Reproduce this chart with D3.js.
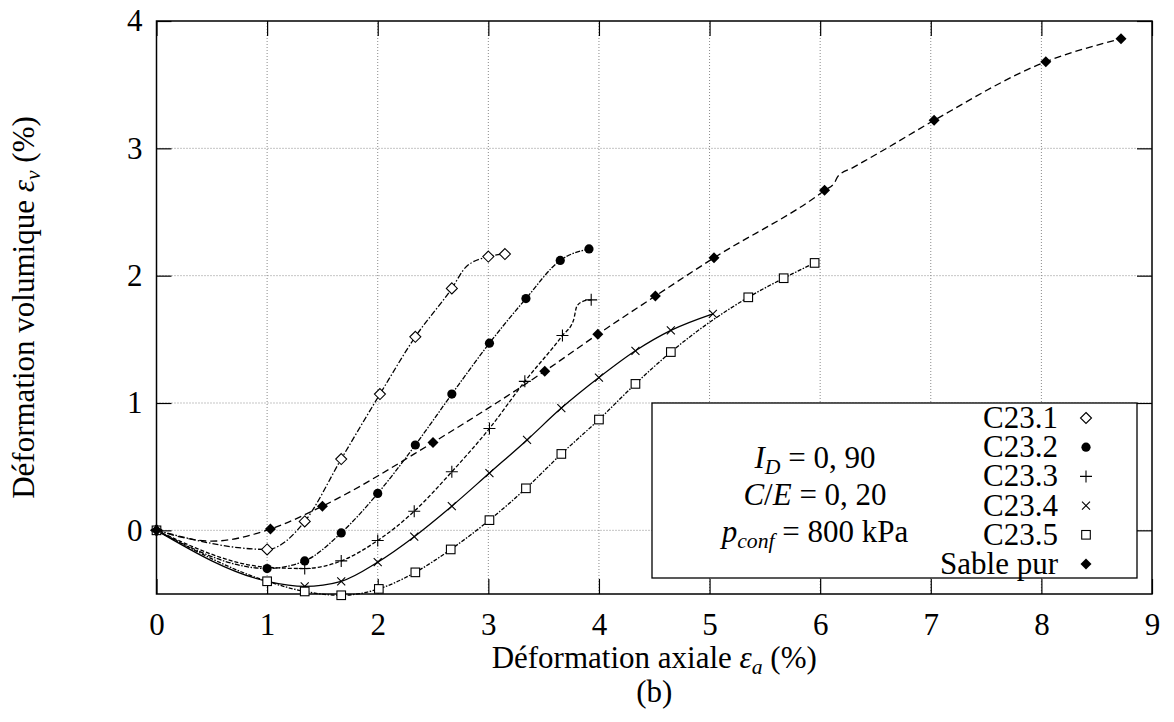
<!DOCTYPE html>
<html>
<head>
<meta charset="utf-8">
<script src="https://cdn.jsdelivr.net/npm/d3@7"></script>
<style>
  html, body { margin: 0; padding: 0; background: #fff; }
  svg { display: block; font-family: "Liberation Serif", "DejaVu Serif", serif; }
</style>
</head>
<body>
<svg id="chart" width="1174" height="722"></svg>
<script>
// Axis ticks
const xTicks = [0, 1, 2, 3, 4, 5, 6, 7, 8, 9];
const yTicks = [0, 1, 2, 3, 4];
const xGrid = [1, 2, 3, 4, 5, 6, 7, 8];
const yGrid = [0, 1, 2, 3];

// Volumetric strain (%) vs axial strain (%) — marked points of each test
const c231X = [0, 1.00, 1.34, 1.67, 2.02, 2.34, 2.67, 3.00, 3.15];
const c231Y = [0, -0.15, 0.07, 0.56, 1.07, 1.52, 1.90, 2.15, 2.17];
const c232X = [0, 1.00, 1.34, 1.67, 2.00, 2.34, 2.67, 3.01, 3.34, 3.65, 3.91];
const c232Y = [0, -0.30, -0.24, -0.02, 0.29, 0.67, 1.07, 1.47, 1.82, 2.12, 2.21];
const c233X = [0, 1.34, 1.67, 2.00, 2.33, 2.67, 3.01, 3.33, 3.67, 3.93];
const c233Y = [0, -0.30, -0.24, -0.08, 0.15, 0.46, 0.80, 1.17, 1.53, 1.81];
const c234X = [0, 1.00, 1.34, 1.67, 2.00, 2.33, 2.67, 3.01, 3.35, 3.66, 4.00, 4.33, 4.65, 5.03];
const c234Y = [0, -0.40, -0.44, -0.40, -0.25, -0.05, 0.19, 0.45, 0.71, 0.96, 1.20, 1.41, 1.57, 1.70];
const c235X = [0, 1.00, 1.34, 1.67, 2.01, 2.34, 2.66, 3.01, 3.34, 3.66, 4.00, 4.33, 4.65, 5.35, 5.67, 5.95];
const c235Y = [0, -0.40, -0.48, -0.51, -0.46, -0.33, -0.15, 0.08, 0.33, 0.60, 0.87, 1.15, 1.40, 1.83, 1.98, 2.10];
const sableX = [0, 1.03, 1.50, 2.50, 3.51, 3.99, 4.51, 5.04, 6.04, 7.03, 8.04, 8.72];
const sableY = [0, 0.01, 0.19, 0.69, 1.25, 1.54, 1.84, 2.14, 2.67, 3.22, 3.68, 3.86];

// Extra points on the continuous traces between markers
const c231TraceX = [2.80];
const c231TraceY = [2.07];
const c233TraceX = [1.00, 3.77, 3.80, 3.86];
const c233TraceY = [-0.29, 1.65, 1.76, 1.80];
const sableTraceX = [0.50, 6.13, 6.16, 6.30, 6.60];
const sableTraceY = [-0.085, 2.73, 2.78, 2.85, 3.00];

const seriesNames = ["C23.1", "C23.2", "C23.3", "C23.4", "C23.5", "Sable pur"];
const annotation = ["I_D = 0,90", "C/E = 0,20", "p_conf = 800 kPa"];

const zip = (xs, ys) => xs.map((x, i) => ({x, y: ys[i]}));
const merge = (a, b) => a.concat(b).sort((p, q) => p.x - q.x);

const series = [
  {name: seriesNames[0], pts: zip(c231X, c231Y), trace: merge(zip(c231X, c231Y), zip(c231TraceX, c231TraceY)), marker: "diamondOpen", dash: "6,2,1.5,2"},
  {name: seriesNames[1], pts: zip(c232X, c232Y), trace: zip(c232X, c232Y), marker: "circle", dash: "5,1.5,1.5,1.5"},
  {name: seriesNames[2], pts: zip(c233X, c233Y), trace: merge(zip(c233X, c233Y), zip(c233TraceX, c233TraceY)), marker: "plus", dash: "4,2"},
  {name: seriesNames[3], pts: zip(c234X, c234Y), trace: zip(c234X, c234Y), marker: "cross", dash: null},
  {name: seriesNames[4], pts: zip(c235X, c235Y), trace: zip(c235X, c235Y), marker: "square", dash: "4,1.5,1.5,1.5"},
  {name: seriesNames[5], pts: zip(sableX, sableY), trace: merge(zip(sableX, sableY), zip(sableTraceX, sableTraceY)), marker: "diamondFilled", dash: "7,4"}
];

const svg = d3.select("#chart");
const plotLeft = 156.5, plotRight = 1152, plotTop = 21, plotBottom = 594;
const x = d3.scaleLinear().domain([0, 9]).range([plotLeft, plotRight]);
const y = d3.scaleLinear().domain([-0.5, 4]).range([plotBottom, plotTop]);
const FONT = 31;

// Grid
const grid = svg.append("g").attr("stroke", "#8a8a8a").attr("stroke-width", 1).attr("stroke-dasharray", "1,2");
grid.selectAll("line.gx").data(xGrid).join("line")
  .attr("x1", d => x(d)).attr("x2", d => x(d)).attr("y1", y(-0.5)).attr("y2", y(4));
grid.selectAll("line.gy").data(yGrid).join("line")
  .attr("x1", x(0)).attr("x2", x(9)).attr("y1", d => y(d)).attr("y2", d => y(d));

// Axes with inward ticks on all four sides
function styleAxis(g) {
  g.select(".domain").remove();
  g.selectAll(".tick line").attr("stroke", "#000").attr("stroke-width", 1.2);
  g.selectAll(".tick text").attr("font-size", FONT).attr("fill", "#000")
    .attr("font-family", "Liberation Serif, serif");
}
svg.append("g").attr("transform", `translate(0,${plotBottom})`)
  .call(d3.axisBottom(x).tickValues(xTicks).tickSizeInner(-15).tickSizeOuter(0).tickPadding(19).tickFormat(d3.format("d")))
  .call(styleAxis);
svg.append("g").attr("transform", `translate(0,${plotTop})`)
  .call(d3.axisTop(x).tickValues(xTicks).tickSizeInner(-15).tickSizeOuter(0).tickFormat(""))
  .call(styleAxis);
svg.append("g").attr("transform", `translate(${plotLeft},0)`)
  .call(d3.axisLeft(y).tickValues(yTicks).tickSizeInner(-15).tickSizeOuter(0).tickPadding(14).tickFormat(d3.format("d")))
  .call(styleAxis);
svg.append("g").attr("transform", `translate(${plotRight},0)`)
  .call(d3.axisRight(y).tickValues(yTicks).tickSizeInner(-15).tickSizeOuter(0).tickFormat(""))
  .call(styleAxis);

// Frame
svg.append("rect").attr("x", plotLeft).attr("y", plotTop).attr("width", plotRight - plotLeft).attr("height", plotBottom - plotTop)
  .attr("fill", "none").attr("stroke", "#000").attr("stroke-width", 1.5);

// Marker shapes
function drawMarker(sel, type) {
  if (type === "diamondOpen") {
    sel.append("path").attr("d", "M0,-5.5L5.5,0L0,5.5L-5.5,0Z").attr("fill", "#fff").attr("stroke", "#000").attr("stroke-width", 1.1);
  } else if (type === "diamondFilled") {
    sel.append("path").attr("d", "M0,-5.5L5.5,0L0,5.5L-5.5,0Z").attr("fill", "#000");
  } else if (type === "circle") {
    sel.append("circle").attr("r", 4.6).attr("fill", "#000");
  } else if (type === "plus") {
    sel.append("path").attr("d", "M-6,0H6M0,-6V6").attr("stroke", "#000").attr("stroke-width", 1.1).attr("fill", "none");
  } else if (type === "cross") {
    sel.append("path").attr("d", "M-4,-4L4,4M-4,4L4,-4").attr("stroke", "#000").attr("stroke-width", 1.1).attr("fill", "none");
  } else if (type === "square") {
    sel.append("rect").attr("x", -4.3).attr("y", -4.3).attr("width", 8.6).attr("height", 8.6)
      .attr("fill", "#fff").attr("stroke", "#000").attr("stroke-width", 1.1);
  }
}

// Curves
const line = d3.line().x(d => x(d.x)).y(d => y(d.y)).curve(d3.curveMonotoneX);
const curves = svg.append("g");
series.forEach(s => {
  curves.append("path").datum(s.trace).attr("d", line)
    .attr("fill", "none").attr("stroke", "#000").attr("stroke-width", 1.3)
    .attr("stroke-dasharray", s.dash);
});
// Markers
series.forEach(s => {
  svg.append("g").selectAll("g").data(s.pts).join("g")
    .attr("transform", d => `translate(${x(d.x)},${y(d.y)})`)
    .each(function () { drawMarker(d3.select(this), s.marker); });
});

// Legend box
const lg = svg.append("g");
lg.append("rect").attr("x", 652).attr("y", 403).attr("width", 485).attr("height", 175)
  .attr("fill", "#fff").attr("stroke", "#000").attr("stroke-width", 1.3);
series.forEach((s, i) => {
  const by = 428 + i * 29.2;
  lg.append("text").attr("x", 1058).attr("y", by).attr("text-anchor", "end")
    .attr("font-size", FONT).text(s.name);
  drawMarker(lg.append("g").attr("transform", `translate(1086,${by - 10})`), s.marker);
});

// Test conditions
function mathText(g, xc, yb, parts) {
  const t = g.append("text").attr("x", xc).attr("y", yb).attr("text-anchor", "middle").attr("font-size", FONT);
  parts.forEach(p => {
    const ts = t.append("tspan").text(p.t);
    if (p.i) ts.attr("font-style", "italic");
    if (p.sub) ts.attr("font-size", FONT * 0.7).attr("baseline-shift", "-25%");
  });
  return t;
}
const ann = annotation.map(a => a.split(" = "));
mathText(lg, 815, 468, [{t: "I", i: true}, {t: ann[0][0].split("_")[1], i: true, sub: true}, {t: " = " + ann[0][1].replace(",", ", ")}]);
mathText(lg, 815, 505, [{t: "C", i: true}, {t: "/"}, {t: "E", i: true}, {t: " = " + ann[1][1].replace(",", ", ")}]);
mathText(lg, 815, 542, [{t: "p", i: true}, {t: ann[2][0].split("_")[1], i: true, sub: true}, {t: " = " + ann[2][1]}]);

// Axis titles
const xt = svg.append("text").attr("x", (plotLeft + plotRight) / 2).attr("y", 668).attr("text-anchor", "middle").attr("font-size", FONT);
xt.append("tspan").text("Déformation axiale ");
xt.append("tspan").attr("font-style", "italic").text("ε");
xt.append("tspan").attr("font-style", "italic").attr("font-size", FONT * 0.7).attr("baseline-shift", "-25%").text("a");
xt.append("tspan").text(" (%)");
svg.append("text").attr("x", (plotLeft + plotRight) / 2).attr("y", 702).attr("text-anchor", "middle").attr("font-size", FONT).text("(b)");

const yt = svg.append("text").attr("transform", `translate(34,${(plotTop + plotBottom) / 2}) rotate(-90)`)
  .attr("text-anchor", "middle").attr("font-size", FONT);
yt.append("tspan").text("Déformation volumique ");
yt.append("tspan").attr("font-style", "italic").text("ε");
yt.append("tspan").attr("font-style", "italic").attr("font-size", FONT * 0.7).attr("baseline-shift", "-25%").text("v");
yt.append("tspan").text(" (%)");
</script>
</body>
</html>
